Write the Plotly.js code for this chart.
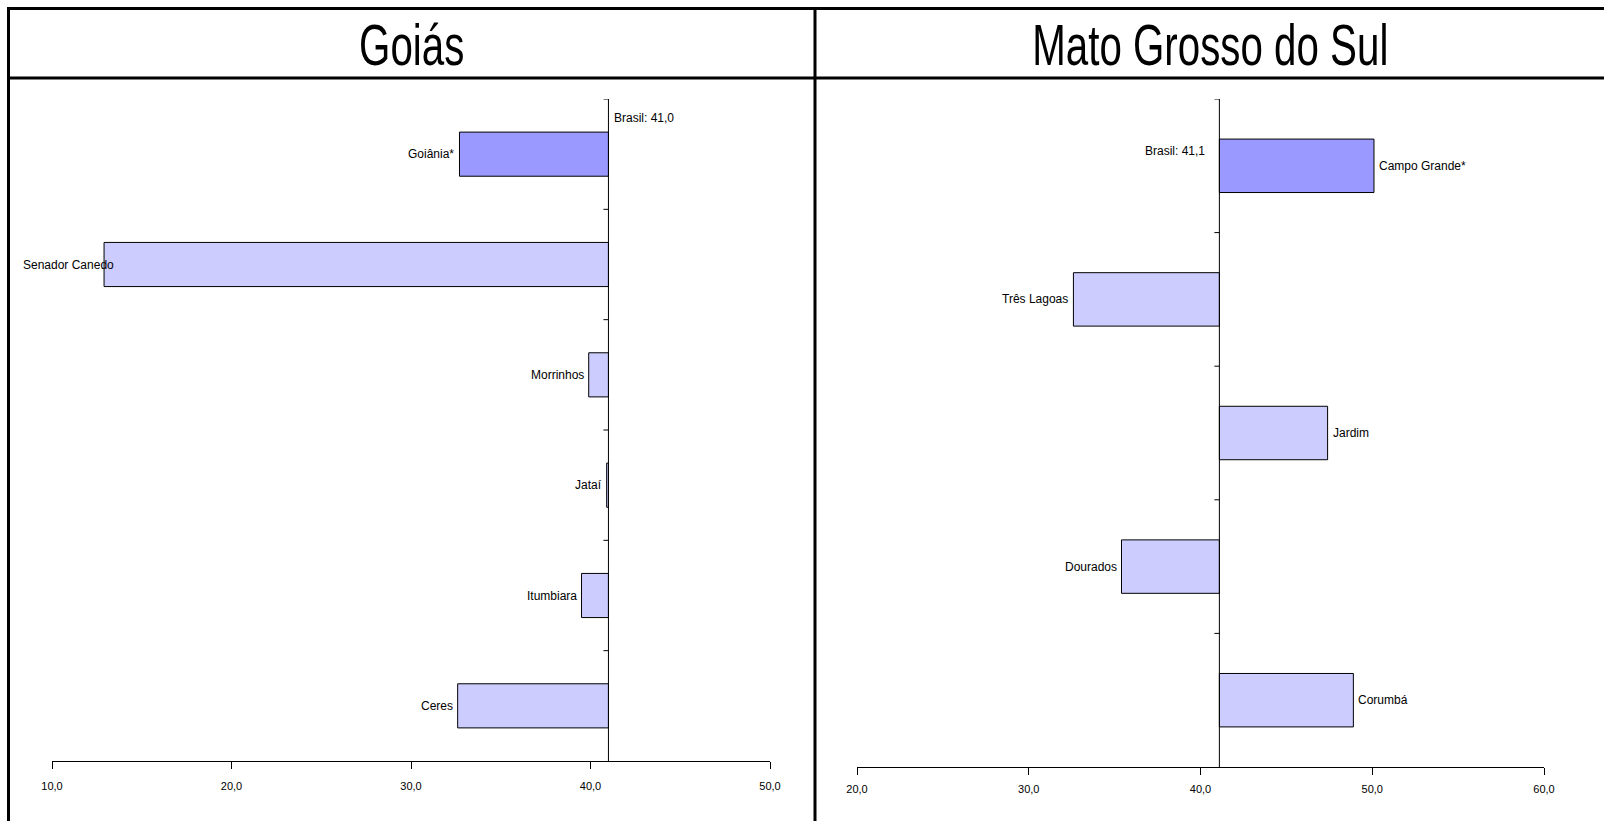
<!DOCTYPE html>
<html>
<head>
<meta charset="utf-8">
<script src="https://cdn.plot.ly/plotly-3.0.1.min.js"></script>
<style>
html,body{margin:0;padding:0;background:#fff;}
#chart{width:1604px;height:821px;}
</style>
</head>
<body>
<div id="chart"></div>
<script>
// ---- data ----
const goTitle = 'Goiás';
const goCategories = ['Goiânia*', 'Senador Canedo', 'Morrinhos', 'Jataí', 'Itumbiara', 'Ceres'];
const goValues = [32.7, 12.9, 39.9, 40.9, 39.5, 32.6];
const goBrasil = 41.0;
const goTicks = [10, 20, 30, 40, 50];

const msTitle = 'Mato Grosso do Sul';
const msCategories = ['Campo Grande*', 'Três Lagoas', 'Jardim', 'Dourados', 'Corumbá'];
const msValues = [50.1, 32.6, 47.4, 35.4, 48.9];
const msBrasil = 41.1;
const msTicks = [20, 30, 40, 50, 60];

// ---- styles ----
const FONT = '"Liberation Sans", Arial, sans-serif';
const CAPITAL = '#9999FF';
const OTHER = '#CCCCFF';
const fmt = v => v.toFixed(1).replace('.', ',');

function panel(cats, vals, brasil, xa, ya, axisMin) {
  const trace = {
    type: 'bar', orientation: 'h',
    y: cats, x: vals.map(v => v - brasil), base: brasil,
    width: 0.4,
    xaxis: xa, yaxis: ya,
    marker: {color: cats.map((c, i) => i === 0 ? CAPITAL : OTHER), line: {color: '#000', width: 1}},
    hoverinfo: 'skip', showlegend: false
  };
  const xr = xa;
  const yr = ya;
  const ann = cats.map((c, i) => {
    const neg = vals[i] < brasil;
    let xshift = neg ? -3 : 3;
    if (neg && vals[i] - axisMin < 5) xshift = 12;
    return {
      x: vals[i], y: c, xref: xr, yref: yr,
      text: c, showarrow: false,
      xanchor: neg ? 'right' : 'left', yanchor: 'middle', xshift: xshift,
      font: {family: FONT, size: 12, color: '#000'}
    };
  });
  const shapes = [{
    type: 'line', xref: xr, yref: yr + ' domain',
    x0: brasil, x1: brasil, y0: 0, y1: 1,
    line: {color: '#000', width: 1}
  }];
  for (let i = 0; i < cats.length; i++) {
    shapes.push({
      type: 'line', xref: xr, yref: yr, xsizemode: 'pixel', xanchor: brasil,
      x0: -5, x1: 0, y0: i - 0.5, y1: i - 0.5,
      line: {color: '#000', width: 1}
    });
  }
  return {trace, ann, shapes};
}

const L = panel(goCategories, goValues, goBrasil, 'x', 'y', goTicks[0]);
const R = panel(msCategories, msValues, msBrasil, 'x2', 'y2', msTicks[0]);

const axisX = (ticks, domain, standoff) => ({
  domain: domain, range: [ticks[0], ticks[ticks.length - 1]],
  tickvals: ticks, ticktext: ticks.map(fmt),
  showgrid: false, zeroline: false, showline: true, linecolor: '#000', linewidth: 1,
  ticks: 'outside', ticklen: 7, tickcolor: '#000', tickwidth: 1,
  ticklabelstandoff: standoff,
  tickfont: {family: FONT, size: 11, color: '#000'},
  fixedrange: true
});
const axisY = (cats, domain, anchor) => ({
  domain: domain, anchor: anchor, type: 'category', categoryarray: cats,
  range: [cats.length - 0.5, -0.5],
  showgrid: false, zeroline: false, showline: false, showticklabels: false, ticks: '',
  fixedrange: true
});

const H = 821, W = 1604;
const frame = [
  {type: 'line', xref: 'paper', yref: 'paper', x0: 8 / W, x1: 1, y0: 1 - 8.5 / H, y1: 1 - 8.5 / H, line: {color: '#000', width: 3}},
  {type: 'line', xref: 'paper', yref: 'paper', x0: 8 / W, x1: 1, y0: 1 - 78 / H, y1: 1 - 78 / H, line: {color: '#000', width: 3}},
  {type: 'line', xref: 'paper', yref: 'paper', x0: 8.5 / W, x1: 8.5 / W, y0: 0, y1: 1 - 7 / H, line: {color: '#000', width: 3}},
  {type: 'line', xref: 'paper', yref: 'paper', x0: 815 / W, x1: 815 / W, y0: 0, y1: 1 - 7 / H, line: {color: '#000', width: 3}}
];

const titles = [
  {text: goTitle, x: 412 / W, y: 1 - 44 / H},
  {text: msTitle, x: 1210 / W, y: 1 - 44 / H}
].map(t => ({
  text: t.text, x: t.x, y: t.y, xref: 'paper', yref: 'paper', showarrow: false,
  xanchor: 'center', yanchor: 'middle', font: {family: FONT, size: 58, color: '#000'}
}));

const brasilAnn = [
  {x: goBrasil, y: 0.972, xref: 'x', yref: 'y domain', text: 'Brasil: ' + fmt(goBrasil),
   xanchor: 'left', xshift: 4, showarrow: false, yanchor: 'middle', font: {family: FONT, size: 12, color: '#000'}},
  {x: msBrasil, y: 0.922, xref: 'x2', yref: 'y2 domain', text: 'Brasil: ' + fmt(msBrasil),
   xanchor: 'right', xshift: -12, showarrow: false, yanchor: 'middle', font: {family: FONT, size: 12, color: '#000'}}
];

const layout = {
  width: W, height: H,
  margin: {l: 0, r: 0, t: 0, b: 0},
  paper_bgcolor: '#fff', plot_bgcolor: 'rgba(0,0,0,0)',
  font: {family: FONT, color: '#000'},
  separators: ',.',
  bargap: 0.6,
  xaxis: Object.assign(axisX(goTicks, [52 / W, 770 / W], 8), {anchor: 'y'}),
  yaxis: axisY(goCategories, [1 - 761 / H, 1 - 99 / H], 'x'),
  xaxis2: Object.assign(axisX(msTicks, [857 / W, 1544 / W], 5), {anchor: 'y2'}),
  yaxis2: axisY(msCategories, [1 - 767 / H, 1 - 99 / H], 'x2'),
  shapes: frame.concat(L.shapes, R.shapes),
  annotations: titles.concat(L.ann, R.ann, brasilAnn)
};

Plotly.newPlot('chart', [L.trace, R.trace], layout, {displayModeBar: false, staticPlot: true}).then(gd => {
  // condensed look for the two panel titles (first two annotations)
  const anns = gd.querySelectorAll('.annotation');
  for (let i = 0; i < titles.length && i < anns.length; i++) {
    const t = anns[i].querySelector('text');
    if (t) {
      t.style.transformBox = 'fill-box';
      t.style.transformOrigin = 'center';
      t.style.transform = 'scaleX(0.695)';
    }
  }
});
</script>
</body>
</html>
